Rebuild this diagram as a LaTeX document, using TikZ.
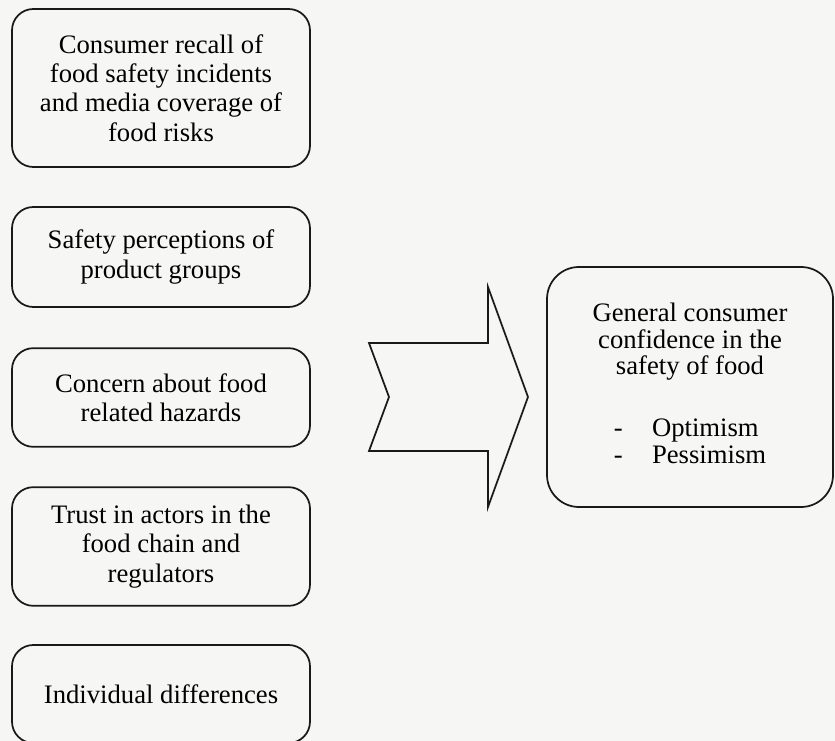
\documentclass[tikz,border=0pt]{standalone}
\usepackage{fontspec}
\setmainfont{Liberation Serif}
\definecolor{bgc}{RGB}{246,246,244}
\definecolor{linec}{RGB}{25,25,25}
\begin{document}
\begin{tikzpicture}[x=0.75pt,y=-0.75pt,
  box/.style={draw=linec, line width=1.3pt, rounded corners=16pt, fill=bgc,
    align=center, font=\fontsize{20}{22}\selectfont, text=black,
    minimum width=223.5pt, inner sep=0pt},
  bigbox/.style={box, rounded corners=24pt, minimum width=214.5pt,
    minimum height=180pt, font=\fontsize{20}{20}\selectfont},
  blockarrow/.style={draw=linec, line width=1.3pt, line join=miter}
]
\fill[bgc] (0,0) rectangle (835,741);
\useasboundingbox (0,0) rectangle (835,741);

\node[box, minimum height=118.5pt] (b1) at (161,88)
  {Consumer recall of\\food safety incidents\\and media coverage of\\food risks};
\node[box, minimum height=75pt] (b2) at (161,257)
  {Safety perceptions of\\product groups};
\node[box, minimum height=74pt] (b3) at (161,397.5)
  {Concern about food\\related hazards};
\node[box, minimum height=89pt] (b4) at (161,546.5)
  {Trust in actors in the\\food chain and\\regulators};
\node[box, minimum height=73.5pt] (b5) at (161,694)
  {Individual differences};

\node[bigbox] (out) at (690,387)
  {General consumer\\confidence in the\\safety of food\\[27pt]
   \begin{tabular}{@{}l@{\hspace{22pt}}l@{}}-&Optimism\\-&Pessimism\end{tabular}};

\coordinate (a1) at (369,343);
\coordinate (a2) at (488,343);
\coordinate (a3) at (488,287);
\coordinate (a4) at (528,397);
\coordinate (a5) at (488,507);
\coordinate (a6) at (488,451);
\coordinate (a7) at (369,451);
\coordinate (a8) at (389,397);
\draw[blockarrow] (a1) -- (a2) -- (a3) -- (a4) -- (a5) -- (a6) -- (a7) -- (a8) -- cycle;
\end{tikzpicture}
\end{document}
